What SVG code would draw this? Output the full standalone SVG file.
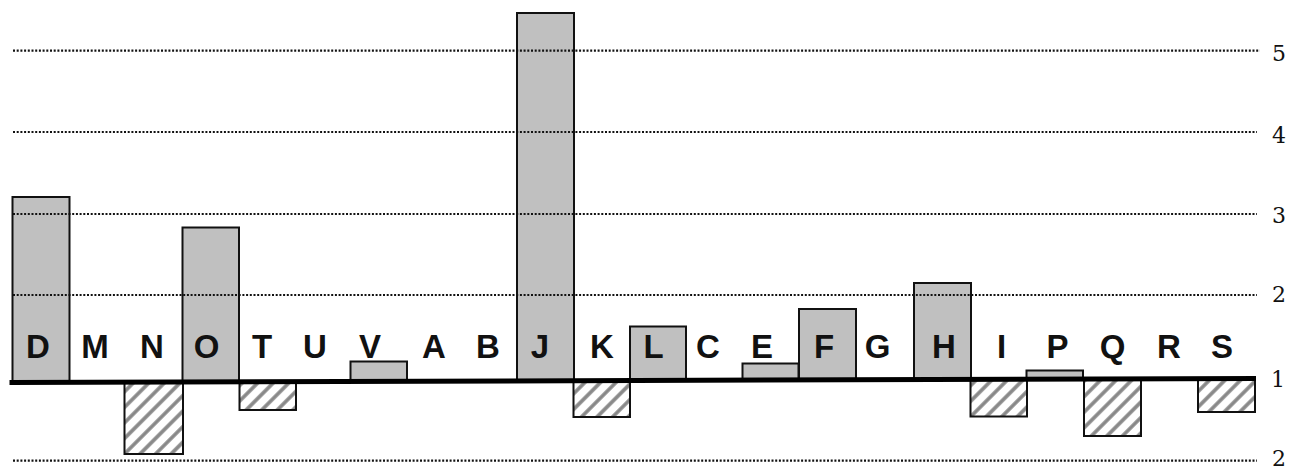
<svg xmlns="http://www.w3.org/2000/svg" width="1295" height="469" viewBox="0 0 1295 469">
<style>
.bar{fill:#c0c0c0;stroke:#111;stroke-width:2}
.neg{fill:url(#hatch);stroke:#111;stroke-width:2}
.grid{stroke:#111;stroke-width:2.2;stroke-dasharray:2 1.7;fill:none}
.lbl{font-family:"Liberation Sans",Arial,sans-serif;font-weight:bold;font-size:33px;text-anchor:middle;fill:#111}
.tick{font-family:"DejaVu Serif","Liberation Serif",serif;font-size:22px;text-anchor:middle;fill:#111}
</style>
<defs>
<pattern id="hatch" patternUnits="userSpaceOnUse" width="11" height="11" patternTransform="rotate(45)">
<rect width="11" height="11" fill="#fff"/>
<line x1="2" y1="0" x2="2" y2="11" stroke="#888" stroke-width="3.6"/>
</pattern>
</defs>
<rect width="1295" height="469" fill="#fff"/>
<g id="bars">
<g id="node-D"><rect class="bar" x="12.5" y="197" width="57" height="185"/><text class="lbl" x="38" y="358">D</text></g>
<g id="node-M"><text class="lbl" x="95" y="358">M</text></g>
<g id="node-N"><rect class="neg" x="124.5" y="382" width="58.5" height="72"/><text class="lbl" x="152" y="358">N</text></g>
<g id="node-O"><rect class="bar" x="182.5" y="227.5" width="56.5" height="154"/><text class="lbl" x="206.5" y="358">O</text></g>
<g id="node-T"><rect class="neg" x="239.5" y="381" width="56.5" height="29"/><text class="lbl" x="262" y="358">T</text></g>
<g id="node-U"><text class="lbl" x="315" y="358">U</text></g>
<g id="node-V"><rect class="bar" x="350.5" y="361.5" width="56.5" height="20"/><text class="lbl" x="370" y="358">V</text></g>
<g id="node-A"><text class="lbl" x="434" y="358">A</text></g>
<g id="node-B"><text class="lbl" x="488" y="358">B</text></g>
<g id="node-J"><rect class="bar" x="517" y="13" width="57" height="368"/><text class="lbl" x="540" y="358">J</text></g>
<g id="node-K"><rect class="neg" x="573.5" y="380.5" width="56.5" height="36.5"/><text class="lbl" x="602" y="358">K</text></g>
<g id="node-L"><rect class="bar" x="630" y="326.5" width="56" height="54"/><text class="lbl" x="653.5" y="358">L</text></g>
<g id="node-C"><text class="lbl" x="708" y="358">C</text></g>
<g id="node-E"><rect class="bar" x="742.5" y="363.5" width="56" height="17"/><text class="lbl" x="762" y="358">E</text></g>
<g id="node-F"><rect class="bar" x="799" y="309" width="57" height="71"/><text class="lbl" x="824" y="358">F</text></g>
<g id="node-G"><text class="lbl" x="877.5" y="358">G</text></g>
<g id="node-H"><rect class="bar" x="914" y="283" width="57" height="97"/><text class="lbl" x="944" y="358">H</text></g>
<g id="node-I"><rect class="neg" x="970.5" y="379.5" width="56.5" height="37"/><text class="lbl" x="1001.5" y="358">I</text></g>
<g id="node-P"><rect class="bar" x="1026.5" y="370.5" width="56.5" height="9"/><text class="lbl" x="1057.5" y="358">P</text></g>
<g id="node-Q"><rect class="neg" x="1084" y="379" width="57" height="57"/><text class="lbl" x="1112.5" y="358">Q</text></g>
<g id="node-R"><text class="lbl" x="1169" y="358">R</text></g>
<g id="node-S"><rect class="neg" x="1198" y="378.5" width="57" height="33.5"/><text class="lbl" x="1222" y="358">S</text></g>
</g>
<g id="axis">
<line class="grid" x1="13" y1="50.7" x2="1260" y2="50.7"/>
<line class="grid" x1="13" y1="132" x2="1257" y2="132"/>
<line class="grid" x1="13" y1="214" x2="1257" y2="214"/>
<line class="grid" x1="13" y1="295" x2="1257" y2="295"/>
<line class="grid" x1="13" y1="460.7" x2="1257" y2="460.7"/>
<line x1="9.5" y1="382.5" x2="1256" y2="378.5" stroke="#000" stroke-width="5"/>
<text class="tick" x="1279" y="61">5</text>
<text class="tick" x="1279" y="143">4</text>
<text class="tick" x="1279" y="223">3</text>
<text class="tick" x="1279" y="302">2</text>
<text class="tick" x="1278" y="387">1</text>
<text class="tick" x="1279" y="466">2</text>
</g>
</svg>
